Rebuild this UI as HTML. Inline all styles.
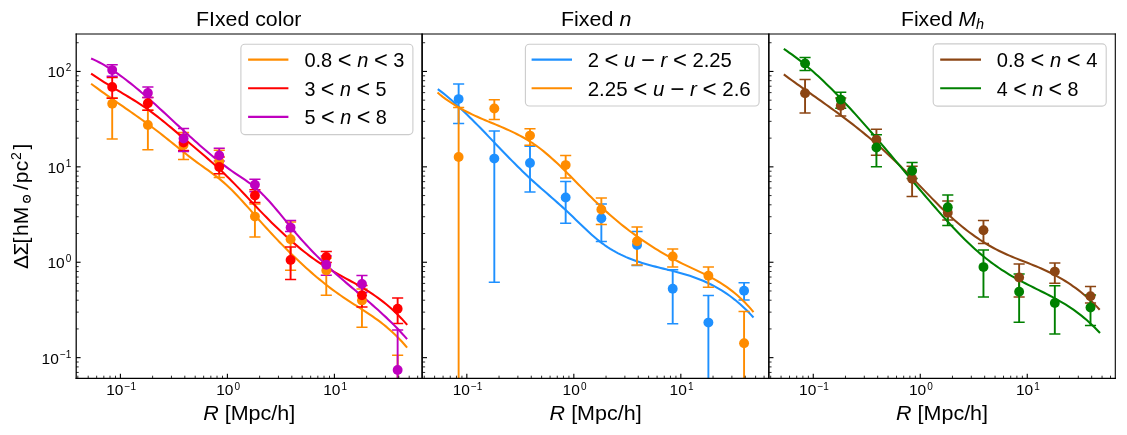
<!DOCTYPE html>
<html><head><meta charset="utf-8"><title>chart</title>
<style>
html,body{margin:0;padding:0;background:#fff;}
body{width:1127px;height:435px;overflow:hidden;}
svg{display:block;will-change:transform;}
text{font-family:"Liberation Sans", sans-serif;}
</style></head>
<body>
<svg width="1127" height="435" viewBox="0 0 1127 435">
<rect width="1127" height="435" fill="#fff"/>
<defs>
<clipPath id="c0"><rect x="76.00" y="33.9" width="346.43" height="344.50"/></clipPath>
<clipPath id="c1"><rect x="422.43" y="33.9" width="346.43" height="344.50"/></clipPath>
<clipPath id="c2"><rect x="768.86" y="33.9" width="346.43" height="344.50"/></clipPath>
</defs>
<g clip-path="url(#c0)">
<line x1="112.20" y1="98.00" x2="112.20" y2="139.00" stroke="#ff8c00" stroke-width="1.9"/><line x1="106.64" y1="98.00" x2="117.76" y2="98.00" stroke="#ff8c00" stroke-width="1.5"/><line x1="106.64" y1="139.00" x2="117.76" y2="139.00" stroke="#ff8c00" stroke-width="1.5"/><line x1="147.88" y1="110.20" x2="147.88" y2="149.80" stroke="#ff8c00" stroke-width="1.9"/><line x1="142.32" y1="110.20" x2="153.44" y2="110.20" stroke="#ff8c00" stroke-width="1.5"/><line x1="142.32" y1="149.80" x2="153.44" y2="149.80" stroke="#ff8c00" stroke-width="1.5"/><line x1="183.56" y1="132.50" x2="183.56" y2="159.60" stroke="#ff8c00" stroke-width="1.9"/><line x1="178.00" y1="132.50" x2="189.12" y2="132.50" stroke="#ff8c00" stroke-width="1.5"/><line x1="178.00" y1="159.60" x2="189.12" y2="159.60" stroke="#ff8c00" stroke-width="1.5"/><line x1="219.24" y1="150.20" x2="219.24" y2="177.50" stroke="#ff8c00" stroke-width="1.9"/><line x1="213.68" y1="150.20" x2="224.80" y2="150.20" stroke="#ff8c00" stroke-width="1.5"/><line x1="213.68" y1="177.50" x2="224.80" y2="177.50" stroke="#ff8c00" stroke-width="1.5"/><line x1="254.92" y1="204.00" x2="254.92" y2="237.00" stroke="#ff8c00" stroke-width="1.9"/><line x1="249.36" y1="204.00" x2="260.48" y2="204.00" stroke="#ff8c00" stroke-width="1.5"/><line x1="249.36" y1="237.00" x2="260.48" y2="237.00" stroke="#ff8c00" stroke-width="1.5"/><line x1="290.60" y1="222.10" x2="290.60" y2="270.30" stroke="#ff8c00" stroke-width="1.9"/><line x1="285.04" y1="222.10" x2="296.16" y2="222.10" stroke="#ff8c00" stroke-width="1.5"/><line x1="285.04" y1="270.30" x2="296.16" y2="270.30" stroke="#ff8c00" stroke-width="1.5"/><line x1="326.28" y1="258.00" x2="326.28" y2="295.20" stroke="#ff8c00" stroke-width="1.9"/><line x1="320.72" y1="258.00" x2="331.84" y2="258.00" stroke="#ff8c00" stroke-width="1.5"/><line x1="320.72" y1="295.20" x2="331.84" y2="295.20" stroke="#ff8c00" stroke-width="1.5"/><line x1="361.96" y1="289.00" x2="361.96" y2="327.30" stroke="#ff8c00" stroke-width="1.9"/><line x1="356.40" y1="289.00" x2="367.52" y2="289.00" stroke="#ff8c00" stroke-width="1.5"/><line x1="356.40" y1="327.30" x2="367.52" y2="327.30" stroke="#ff8c00" stroke-width="1.5"/><line x1="397.64" y1="355.30" x2="397.64" y2="383.40" stroke="#ff8c00" stroke-width="1.9"/><line x1="392.08" y1="355.30" x2="403.20" y2="355.30" stroke="#ff8c00" stroke-width="1.5"/>
<path d="M91.10,83.73 L93.76,85.72 L96.41,87.68 L99.07,89.62 L101.72,91.54 L104.38,93.44 L107.03,95.33 L109.69,97.21 L112.34,99.07 L115.00,100.93 L117.65,102.78 L120.31,104.62 L122.97,106.47 L125.62,108.31 L128.28,110.16 L130.93,112.01 L133.59,113.87 L136.24,115.73 L138.90,117.61 L141.55,119.50 L144.21,121.41 L146.86,123.33 L149.52,125.28 L152.18,127.25 L154.83,129.24 L157.49,131.26 L160.14,133.30 L162.80,135.38 L165.45,137.48 L168.11,139.60 L170.76,141.74 L173.42,143.88 L176.07,146.03 L178.73,148.17 L181.39,150.30 L184.04,152.42 L186.70,154.52 L189.35,156.59 L192.01,158.63 L194.66,160.63 L197.32,162.59 L199.97,164.52 L202.63,166.42 L205.28,168.31 L207.94,170.21 L210.60,172.13 L213.25,174.09 L215.91,176.10 L218.56,178.18 L221.22,180.34 L223.87,182.60 L226.53,184.97 L229.18,187.46 L231.84,190.05 L234.49,192.74 L237.15,195.51 L239.81,198.35 L242.46,201.25 L245.12,204.20 L247.77,207.18 L250.43,210.18 L253.08,213.19 L255.74,216.20 L258.39,219.20 L261.05,222.17 L263.71,225.11 L266.36,228.03 L269.02,230.91 L271.67,233.77 L274.33,236.60 L276.98,239.39 L279.64,242.16 L282.29,244.89 L284.95,247.59 L287.60,250.25 L290.26,252.89 L292.92,255.48 L295.57,258.04 L298.23,260.57 L300.88,263.06 L303.54,265.51 L306.19,267.92 L308.85,270.29 L311.50,272.63 L314.16,274.92 L316.81,277.18 L319.47,279.39 L322.13,281.56 L324.78,283.69 L327.44,285.77 L330.09,287.81 L332.75,289.81 L335.40,291.76 L338.06,293.66 L340.71,295.52 L343.37,297.33 L346.02,299.10 L348.68,300.84 L351.34,302.56 L353.99,304.26 L356.65,305.95 L359.30,307.64 L361.96,309.35 L364.61,311.07 L367.27,312.81 L369.92,314.59 L372.58,316.41 L375.23,318.28 L377.89,320.21 L380.55,322.20 L383.20,324.27 L385.86,326.43 L388.51,328.67 L391.17,331.01 L393.82,333.46 L396.48,336.02 L399.13,338.71 L401.79,341.53 L404.44,344.49 L407.10,347.60" fill="none" stroke="#ff8c00" stroke-width="2.08" stroke-linecap="butt" stroke-linejoin="round"/>
<line x1="112.20" y1="77.50" x2="112.20" y2="98.30" stroke="#ff0000" stroke-width="1.9"/><line x1="106.64" y1="77.50" x2="117.76" y2="77.50" stroke="#ff0000" stroke-width="1.5"/><line x1="106.64" y1="98.30" x2="117.76" y2="98.30" stroke="#ff0000" stroke-width="1.5"/><line x1="147.88" y1="97.60" x2="147.88" y2="110.20" stroke="#ff0000" stroke-width="1.9"/><line x1="142.32" y1="97.60" x2="153.44" y2="97.60" stroke="#ff0000" stroke-width="1.5"/><line x1="142.32" y1="110.20" x2="153.44" y2="110.20" stroke="#ff0000" stroke-width="1.5"/><line x1="183.56" y1="134.50" x2="183.56" y2="150.50" stroke="#ff0000" stroke-width="1.9"/><line x1="178.00" y1="134.50" x2="189.12" y2="134.50" stroke="#ff0000" stroke-width="1.5"/><line x1="178.00" y1="150.50" x2="189.12" y2="150.50" stroke="#ff0000" stroke-width="1.5"/><line x1="219.24" y1="157.00" x2="219.24" y2="173.80" stroke="#ff0000" stroke-width="1.9"/><line x1="213.68" y1="157.00" x2="224.80" y2="157.00" stroke="#ff0000" stroke-width="1.5"/><line x1="213.68" y1="173.80" x2="224.80" y2="173.80" stroke="#ff0000" stroke-width="1.5"/><line x1="254.92" y1="189.70" x2="254.92" y2="202.60" stroke="#ff0000" stroke-width="1.9"/><line x1="249.36" y1="189.70" x2="260.48" y2="189.70" stroke="#ff0000" stroke-width="1.5"/><line x1="249.36" y1="202.60" x2="260.48" y2="202.60" stroke="#ff0000" stroke-width="1.5"/><line x1="290.60" y1="247.00" x2="290.60" y2="279.60" stroke="#ff0000" stroke-width="1.9"/><line x1="285.04" y1="247.00" x2="296.16" y2="247.00" stroke="#ff0000" stroke-width="1.5"/><line x1="285.04" y1="279.60" x2="296.16" y2="279.60" stroke="#ff0000" stroke-width="1.5"/><line x1="326.28" y1="251.50" x2="326.28" y2="262.50" stroke="#ff0000" stroke-width="1.9"/><line x1="320.72" y1="251.50" x2="331.84" y2="251.50" stroke="#ff0000" stroke-width="1.5"/><line x1="320.72" y1="262.50" x2="331.84" y2="262.50" stroke="#ff0000" stroke-width="1.5"/><line x1="361.96" y1="285.50" x2="361.96" y2="307.00" stroke="#ff0000" stroke-width="1.9"/><line x1="356.40" y1="285.50" x2="367.52" y2="285.50" stroke="#ff0000" stroke-width="1.5"/><line x1="356.40" y1="307.00" x2="367.52" y2="307.00" stroke="#ff0000" stroke-width="1.5"/><line x1="397.64" y1="297.90" x2="397.64" y2="323.60" stroke="#ff0000" stroke-width="1.9"/><line x1="392.08" y1="297.90" x2="403.20" y2="297.90" stroke="#ff0000" stroke-width="1.5"/><line x1="392.08" y1="323.60" x2="403.20" y2="323.60" stroke="#ff0000" stroke-width="1.5"/>
<path d="M91.10,73.62 L93.76,75.45 L96.41,77.22 L99.07,78.96 L101.73,80.65 L104.38,82.32 L107.04,83.96 L109.69,85.58 L112.35,87.19 L115.01,88.78 L117.66,90.37 L120.32,91.95 L122.98,93.54 L125.63,95.13 L128.29,96.74 L130.94,98.37 L133.60,100.01 L136.26,101.69 L138.91,103.40 L141.57,105.14 L144.23,106.93 L146.88,108.76 L149.54,110.65 L152.19,112.59 L154.85,114.59 L157.51,116.63 L160.16,118.72 L162.82,120.84 L165.48,123.00 L168.13,125.18 L170.79,127.39 L173.45,129.62 L176.10,131.85 L178.76,134.10 L181.41,136.35 L184.07,138.59 L186.73,140.83 L189.38,143.06 L192.04,145.29 L194.70,147.53 L197.35,149.77 L200.01,152.02 L202.66,154.29 L205.32,156.57 L207.98,158.88 L210.63,161.21 L213.29,163.57 L215.95,165.96 L218.60,168.38 L221.26,170.85 L223.92,173.35 L226.57,175.91 L229.23,178.51 L231.88,181.17 L234.54,183.87 L237.20,186.62 L239.85,189.40 L242.51,192.20 L245.17,195.03 L247.82,197.86 L250.48,200.69 L253.13,203.52 L255.79,206.33 L258.45,209.12 L261.10,211.89 L263.76,214.62 L266.42,217.33 L269.07,220.00 L271.73,222.64 L274.38,225.24 L277.04,227.81 L279.70,230.34 L282.35,232.83 L285.01,235.28 L287.67,237.69 L290.32,240.06 L292.98,242.38 L295.64,244.66 L298.29,246.89 L300.95,249.08 L303.60,251.21 L306.26,253.29 L308.92,255.32 L311.57,257.30 L314.23,259.22 L316.89,261.08 L319.54,262.89 L322.20,264.64 L324.85,266.33 L327.51,267.97 L330.17,269.57 L332.82,271.12 L335.48,272.65 L338.14,274.15 L340.79,275.63 L343.45,277.10 L346.11,278.56 L348.76,280.02 L351.42,281.48 L354.07,282.96 L356.73,284.46 L359.39,285.98 L362.04,287.54 L364.70,289.13 L367.36,290.76 L370.01,292.45 L372.67,294.19 L375.32,296.00 L377.98,297.87 L380.64,299.83 L383.29,301.86 L385.95,303.98 L388.61,306.20 L391.26,308.51 L393.92,310.94 L396.57,313.48 L399.23,316.14 L401.89,318.92 L404.54,321.84 L407.20,324.90" fill="none" stroke="#ff0000" stroke-width="2.08" stroke-linecap="butt" stroke-linejoin="round"/>
<line x1="112.20" y1="64.80" x2="112.20" y2="76.20" stroke="#bf00bf" stroke-width="1.9"/><line x1="106.64" y1="64.80" x2="117.76" y2="64.80" stroke="#bf00bf" stroke-width="1.5"/><line x1="106.64" y1="76.20" x2="117.76" y2="76.20" stroke="#bf00bf" stroke-width="1.5"/><line x1="147.88" y1="87.00" x2="147.88" y2="97.60" stroke="#bf00bf" stroke-width="1.9"/><line x1="142.32" y1="87.00" x2="153.44" y2="87.00" stroke="#bf00bf" stroke-width="1.5"/><line x1="142.32" y1="97.60" x2="153.44" y2="97.60" stroke="#bf00bf" stroke-width="1.5"/><line x1="183.56" y1="128.50" x2="183.56" y2="151.40" stroke="#bf00bf" stroke-width="1.9"/><line x1="178.00" y1="128.50" x2="189.12" y2="128.50" stroke="#bf00bf" stroke-width="1.5"/><line x1="178.00" y1="151.40" x2="189.12" y2="151.40" stroke="#bf00bf" stroke-width="1.5"/><line x1="219.24" y1="148.20" x2="219.24" y2="161.00" stroke="#bf00bf" stroke-width="1.9"/><line x1="213.68" y1="148.20" x2="224.80" y2="148.20" stroke="#bf00bf" stroke-width="1.5"/><line x1="213.68" y1="161.00" x2="224.80" y2="161.00" stroke="#bf00bf" stroke-width="1.5"/><line x1="254.92" y1="179.30" x2="254.92" y2="191.80" stroke="#bf00bf" stroke-width="1.9"/><line x1="249.36" y1="179.30" x2="260.48" y2="179.30" stroke="#bf00bf" stroke-width="1.5"/><line x1="249.36" y1="191.80" x2="260.48" y2="191.80" stroke="#bf00bf" stroke-width="1.5"/><line x1="290.60" y1="220.60" x2="290.60" y2="231.50" stroke="#bf00bf" stroke-width="1.9"/><line x1="285.04" y1="220.60" x2="296.16" y2="220.60" stroke="#bf00bf" stroke-width="1.5"/><line x1="285.04" y1="231.50" x2="296.16" y2="231.50" stroke="#bf00bf" stroke-width="1.5"/><line x1="326.28" y1="256.00" x2="326.28" y2="275.30" stroke="#bf00bf" stroke-width="1.9"/><line x1="320.72" y1="256.00" x2="331.84" y2="256.00" stroke="#bf00bf" stroke-width="1.5"/><line x1="320.72" y1="275.30" x2="331.84" y2="275.30" stroke="#bf00bf" stroke-width="1.5"/><line x1="361.96" y1="275.40" x2="361.96" y2="292.50" stroke="#bf00bf" stroke-width="1.9"/><line x1="356.40" y1="275.40" x2="367.52" y2="275.40" stroke="#bf00bf" stroke-width="1.5"/><line x1="356.40" y1="292.50" x2="367.52" y2="292.50" stroke="#bf00bf" stroke-width="1.5"/><line x1="397.64" y1="330.10" x2="397.64" y2="383.40" stroke="#bf00bf" stroke-width="1.9"/><line x1="392.08" y1="330.10" x2="403.20" y2="330.10" stroke="#bf00bf" stroke-width="1.5"/>
<path d="M91.10,58.47 L93.76,59.66 L96.41,60.93 L99.07,62.27 L101.72,63.70 L104.38,65.20 L107.03,66.77 L109.69,68.41 L112.34,70.11 L115.00,71.88 L117.65,73.71 L120.31,75.59 L122.97,77.53 L125.62,79.52 L128.28,81.56 L130.93,83.65 L133.59,85.79 L136.24,87.96 L138.90,90.17 L141.55,92.42 L144.21,94.70 L146.86,97.01 L149.52,99.35 L152.18,101.72 L154.83,104.10 L157.49,106.51 L160.14,108.93 L162.80,111.37 L165.45,113.82 L168.11,116.27 L170.76,118.74 L173.42,121.20 L176.07,123.67 L178.73,126.13 L181.39,128.59 L184.04,131.04 L186.70,133.48 L189.35,135.91 L192.01,138.32 L194.66,140.72 L197.32,143.09 L199.97,145.43 L202.63,147.76 L205.28,150.05 L207.94,152.32 L210.60,154.55 L213.25,156.75 L215.91,158.91 L218.56,161.03 L221.22,163.12 L223.87,165.16 L226.53,167.16 L229.18,169.11 L231.84,171.02 L234.49,172.87 L237.15,174.68 L239.81,176.44 L242.46,178.19 L245.12,179.97 L247.77,181.80 L250.43,183.72 L253.08,185.76 L255.74,187.94 L258.39,190.28 L261.05,192.77 L263.71,195.40 L266.36,198.16 L269.02,201.04 L271.67,204.03 L274.33,207.10 L276.98,210.25 L279.64,213.46 L282.29,216.70 L284.95,219.96 L287.60,223.22 L290.26,226.47 L292.92,229.68 L295.57,232.83 L298.23,235.92 L300.88,238.95 L303.54,241.91 L306.19,244.82 L308.85,247.66 L311.50,250.45 L314.16,253.19 L316.81,255.87 L319.47,258.51 L322.13,261.09 L324.78,263.63 L327.44,266.13 L330.09,268.58 L332.75,270.99 L335.40,273.37 L338.06,275.71 L340.71,278.03 L343.37,280.32 L346.02,282.59 L348.68,284.84 L351.34,287.08 L353.99,289.32 L356.65,291.55 L359.30,293.78 L361.96,296.02 L364.61,298.27 L367.27,300.53 L369.92,302.82 L372.58,305.12 L375.23,307.45 L377.89,309.81 L380.55,312.21 L383.20,314.65 L385.86,317.13 L388.51,319.66 L391.17,322.24 L393.82,324.88 L396.48,327.58 L399.13,330.34 L401.79,333.17 L404.44,336.08 L407.10,339.07" fill="none" stroke="#bf00bf" stroke-width="2.08" stroke-linecap="butt" stroke-linejoin="round"/>
<circle cx="112.20" cy="103.70" r="4.95" fill="#ff8c00"/><circle cx="147.88" cy="125.00" r="4.95" fill="#ff8c00"/><circle cx="183.56" cy="145.00" r="4.95" fill="#ff8c00"/><circle cx="219.24" cy="161.40" r="4.95" fill="#ff8c00"/><circle cx="254.92" cy="216.60" r="4.95" fill="#ff8c00"/><circle cx="290.60" cy="239.30" r="4.95" fill="#ff8c00"/><circle cx="326.28" cy="270.60" r="4.95" fill="#ff8c00"/><circle cx="361.96" cy="300.40" r="4.95" fill="#ff8c00"/><circle cx="397.64" cy="420.00" r="4.95" fill="#ff8c00"/><circle cx="112.20" cy="86.90" r="4.95" fill="#ff0000"/><circle cx="147.88" cy="103.30" r="4.95" fill="#ff0000"/><circle cx="183.56" cy="142.50" r="4.95" fill="#ff0000"/><circle cx="219.24" cy="167.00" r="4.95" fill="#ff0000"/><circle cx="254.92" cy="195.50" r="4.95" fill="#ff0000"/><circle cx="290.60" cy="259.90" r="4.95" fill="#ff0000"/><circle cx="326.28" cy="257.00" r="4.95" fill="#ff0000"/><circle cx="361.96" cy="295.20" r="4.95" fill="#ff0000"/><circle cx="397.64" cy="308.70" r="4.95" fill="#ff0000"/><circle cx="112.20" cy="70.10" r="4.95" fill="#bf00bf"/><circle cx="147.88" cy="92.90" r="4.95" fill="#bf00bf"/><circle cx="183.56" cy="138.60" r="4.95" fill="#bf00bf"/><circle cx="219.24" cy="155.50" r="4.95" fill="#bf00bf"/><circle cx="254.92" cy="184.80" r="4.95" fill="#bf00bf"/><circle cx="290.60" cy="227.60" r="4.95" fill="#bf00bf"/><circle cx="326.28" cy="264.80" r="4.95" fill="#bf00bf"/><circle cx="361.96" cy="284.00" r="4.95" fill="#bf00bf"/><circle cx="397.64" cy="370.00" r="4.95" fill="#bf00bf"/>
</g>
<g clip-path="url(#c1)">
<line x1="458.63" y1="84.00" x2="458.63" y2="123.60" stroke="#1e90ff" stroke-width="1.9"/><line x1="453.07" y1="84.00" x2="464.19" y2="84.00" stroke="#1e90ff" stroke-width="1.5"/><line x1="453.07" y1="123.60" x2="464.19" y2="123.60" stroke="#1e90ff" stroke-width="1.5"/><line x1="494.31" y1="130.90" x2="494.31" y2="282.20" stroke="#1e90ff" stroke-width="1.9"/><line x1="488.75" y1="130.90" x2="499.87" y2="130.90" stroke="#1e90ff" stroke-width="1.5"/><line x1="488.75" y1="282.20" x2="499.87" y2="282.20" stroke="#1e90ff" stroke-width="1.5"/><line x1="529.99" y1="146.20" x2="529.99" y2="191.90" stroke="#1e90ff" stroke-width="1.9"/><line x1="524.43" y1="146.20" x2="535.55" y2="146.20" stroke="#1e90ff" stroke-width="1.5"/><line x1="524.43" y1="191.90" x2="535.55" y2="191.90" stroke="#1e90ff" stroke-width="1.5"/><line x1="565.67" y1="181.50" x2="565.67" y2="223.20" stroke="#1e90ff" stroke-width="1.9"/><line x1="560.11" y1="181.50" x2="571.23" y2="181.50" stroke="#1e90ff" stroke-width="1.5"/><line x1="560.11" y1="223.20" x2="571.23" y2="223.20" stroke="#1e90ff" stroke-width="1.5"/><line x1="601.35" y1="204.00" x2="601.35" y2="241.40" stroke="#1e90ff" stroke-width="1.9"/><line x1="595.79" y1="204.00" x2="606.91" y2="204.00" stroke="#1e90ff" stroke-width="1.5"/><line x1="595.79" y1="241.40" x2="606.91" y2="241.40" stroke="#1e90ff" stroke-width="1.5"/><line x1="637.03" y1="231.40" x2="637.03" y2="265.40" stroke="#1e90ff" stroke-width="1.9"/><line x1="631.47" y1="231.40" x2="642.59" y2="231.40" stroke="#1e90ff" stroke-width="1.5"/><line x1="631.47" y1="265.40" x2="642.59" y2="265.40" stroke="#1e90ff" stroke-width="1.5"/><line x1="672.71" y1="269.70" x2="672.71" y2="323.80" stroke="#1e90ff" stroke-width="1.9"/><line x1="667.15" y1="269.70" x2="678.27" y2="269.70" stroke="#1e90ff" stroke-width="1.5"/><line x1="667.15" y1="323.80" x2="678.27" y2="323.80" stroke="#1e90ff" stroke-width="1.5"/><line x1="708.39" y1="295.60" x2="708.39" y2="383.40" stroke="#1e90ff" stroke-width="1.9"/><line x1="702.83" y1="295.60" x2="713.95" y2="295.60" stroke="#1e90ff" stroke-width="1.5"/><line x1="744.07" y1="282.80" x2="744.07" y2="299.90" stroke="#1e90ff" stroke-width="1.9"/><line x1="738.51" y1="282.80" x2="749.63" y2="282.80" stroke="#1e90ff" stroke-width="1.5"/><line x1="738.51" y1="299.90" x2="749.63" y2="299.90" stroke="#1e90ff" stroke-width="1.5"/>
<path d="M437.80,89.06 L440.45,91.07 L443.11,93.16 L445.76,95.31 L448.41,97.52 L451.06,99.80 L453.72,102.13 L456.37,104.52 L459.02,106.96 L461.68,109.44 L464.33,111.97 L466.98,114.54 L469.64,117.14 L472.29,119.78 L474.94,122.45 L477.59,125.14 L480.25,127.85 L482.90,130.59 L485.55,133.34 L488.21,136.10 L490.86,138.86 L493.51,141.64 L496.16,144.41 L498.82,147.18 L501.47,149.95 L504.12,152.70 L506.78,155.44 L509.43,158.17 L512.08,160.87 L514.74,163.56 L517.39,166.21 L520.04,168.83 L522.69,171.42 L525.35,173.98 L528.00,176.49 L530.65,178.95 L533.31,181.38 L535.96,183.76 L538.61,186.12 L541.26,188.45 L543.92,190.76 L546.57,193.07 L549.22,195.37 L551.88,197.68 L554.53,200.01 L557.18,202.35 L559.84,204.72 L562.49,207.12 L565.14,209.56 L567.79,212.05 L570.45,214.57 L573.10,217.12 L575.75,219.69 L578.41,222.25 L581.06,224.81 L583.71,227.34 L586.36,229.84 L589.02,232.29 L591.67,234.67 L594.32,236.99 L596.98,239.22 L599.63,241.35 L602.28,243.37 L604.94,245.28 L607.59,247.08 L610.24,248.78 L612.89,250.38 L615.55,251.89 L618.20,253.31 L620.85,254.65 L623.51,255.91 L626.16,257.10 L628.81,258.21 L631.46,259.26 L634.12,260.26 L636.77,261.19 L639.42,262.08 L642.08,262.92 L644.73,263.73 L647.38,264.49 L650.04,265.23 L652.69,265.94 L655.34,266.63 L657.99,267.30 L660.65,267.97 L663.30,268.62 L665.95,269.27 L668.61,269.93 L671.26,270.59 L673.91,271.27 L676.56,271.96 L679.22,272.68 L681.87,273.42 L684.52,274.20 L687.18,275.00 L689.83,275.85 L692.48,276.74 L695.14,277.68 L697.79,278.67 L700.44,279.71 L703.09,280.81 L705.75,281.97 L708.40,283.20 L711.05,284.49 L713.71,285.85 L716.36,287.30 L719.01,288.82 L721.66,290.42 L724.32,292.11 L726.97,293.89 L729.62,295.77 L732.28,297.74 L734.93,299.81 L737.58,301.99 L740.24,304.28 L742.89,306.68 L745.54,309.20 L748.19,311.84 L750.85,314.60 L753.50,317.49" fill="none" stroke="#1e90ff" stroke-width="2.08" stroke-linecap="butt" stroke-linejoin="round"/>
<line x1="458.63" y1="107.40" x2="458.63" y2="383.40" stroke="#ff8c00" stroke-width="1.9"/><line x1="453.07" y1="107.40" x2="464.19" y2="107.40" stroke="#ff8c00" stroke-width="1.5"/><line x1="494.31" y1="99.70" x2="494.31" y2="119.60" stroke="#ff8c00" stroke-width="1.9"/><line x1="488.75" y1="99.70" x2="499.87" y2="99.70" stroke="#ff8c00" stroke-width="1.5"/><line x1="488.75" y1="119.60" x2="499.87" y2="119.60" stroke="#ff8c00" stroke-width="1.5"/><line x1="529.99" y1="128.80" x2="529.99" y2="145.30" stroke="#ff8c00" stroke-width="1.9"/><line x1="524.43" y1="128.80" x2="535.55" y2="128.80" stroke="#ff8c00" stroke-width="1.5"/><line x1="524.43" y1="145.30" x2="535.55" y2="145.30" stroke="#ff8c00" stroke-width="1.5"/><line x1="565.67" y1="155.60" x2="565.67" y2="177.90" stroke="#ff8c00" stroke-width="1.9"/><line x1="560.11" y1="155.60" x2="571.23" y2="155.60" stroke="#ff8c00" stroke-width="1.5"/><line x1="560.11" y1="177.90" x2="571.23" y2="177.90" stroke="#ff8c00" stroke-width="1.5"/><line x1="601.35" y1="198.10" x2="601.35" y2="224.50" stroke="#ff8c00" stroke-width="1.9"/><line x1="595.79" y1="198.10" x2="606.91" y2="198.10" stroke="#ff8c00" stroke-width="1.5"/><line x1="595.79" y1="224.50" x2="606.91" y2="224.50" stroke="#ff8c00" stroke-width="1.5"/><line x1="637.03" y1="227.10" x2="637.03" y2="265.00" stroke="#ff8c00" stroke-width="1.9"/><line x1="631.47" y1="227.10" x2="642.59" y2="227.10" stroke="#ff8c00" stroke-width="1.5"/><line x1="631.47" y1="265.00" x2="642.59" y2="265.00" stroke="#ff8c00" stroke-width="1.5"/><line x1="672.71" y1="249.00" x2="672.71" y2="266.90" stroke="#ff8c00" stroke-width="1.9"/><line x1="667.15" y1="249.00" x2="678.27" y2="249.00" stroke="#ff8c00" stroke-width="1.5"/><line x1="667.15" y1="266.90" x2="678.27" y2="266.90" stroke="#ff8c00" stroke-width="1.5"/><line x1="708.39" y1="267.00" x2="708.39" y2="287.20" stroke="#ff8c00" stroke-width="1.9"/><line x1="702.83" y1="267.00" x2="713.95" y2="267.00" stroke="#ff8c00" stroke-width="1.5"/><line x1="702.83" y1="287.20" x2="713.95" y2="287.20" stroke="#ff8c00" stroke-width="1.5"/><line x1="744.07" y1="311.50" x2="744.07" y2="383.40" stroke="#ff8c00" stroke-width="1.9"/><line x1="738.51" y1="311.50" x2="749.63" y2="311.50" stroke="#ff8c00" stroke-width="1.5"/>
<path d="M437.50,92.54 L440.16,94.73 L442.81,96.81 L445.47,98.80 L448.12,100.69 L450.78,102.49 L453.43,104.20 L456.09,105.84 L458.74,107.41 L461.40,108.91 L464.05,110.34 L466.71,111.72 L469.37,113.05 L472.02,114.33 L474.68,115.57 L477.33,116.77 L479.99,117.95 L482.64,119.09 L485.30,120.22 L487.95,121.34 L490.61,122.44 L493.26,123.55 L495.92,124.65 L498.58,125.76 L501.23,126.89 L503.89,128.03 L506.54,129.19 L509.20,130.39 L511.85,131.62 L514.51,132.89 L517.16,134.22 L519.82,135.59 L522.47,137.03 L525.13,138.53 L527.79,140.10 L530.44,141.76 L533.10,143.49 L535.75,145.32 L538.41,147.24 L541.06,149.27 L543.72,151.38 L546.37,153.58 L549.03,155.85 L551.68,158.20 L554.34,160.61 L557.00,163.08 L559.65,165.61 L562.31,168.18 L564.96,170.78 L567.62,173.42 L570.27,176.09 L572.93,178.78 L575.58,181.48 L578.24,184.19 L580.89,186.89 L583.55,189.59 L586.21,192.28 L588.86,194.95 L591.52,197.60 L594.17,200.21 L596.83,202.78 L599.48,205.31 L602.14,207.79 L604.79,210.22 L607.45,212.62 L610.11,214.97 L612.76,217.27 L615.42,219.53 L618.07,221.75 L620.73,223.93 L623.38,226.07 L626.04,228.16 L628.69,230.21 L631.35,232.22 L634.00,234.20 L636.66,236.13 L639.32,238.02 L641.97,239.88 L644.63,241.69 L647.28,243.47 L649.94,245.21 L652.59,246.91 L655.25,248.58 L657.90,250.21 L660.56,251.81 L663.21,253.37 L665.87,254.89 L668.53,256.38 L671.18,257.84 L673.84,259.26 L676.49,260.65 L679.15,262.00 L681.80,263.33 L684.46,264.62 L687.11,265.89 L689.77,267.14 L692.42,268.38 L695.08,269.63 L697.74,270.87 L700.39,272.13 L703.05,273.41 L705.70,274.72 L708.36,276.07 L711.01,277.46 L713.67,278.91 L716.32,280.41 L718.98,281.98 L721.63,283.63 L724.29,285.36 L726.95,287.18 L729.60,289.10 L732.26,291.12 L734.91,293.26 L737.57,295.52 L740.22,297.91 L742.88,300.43 L745.53,303.10 L748.19,305.92 L750.84,308.90 L753.50,312.05" fill="none" stroke="#ff8c00" stroke-width="2.08" stroke-linecap="butt" stroke-linejoin="round"/>
<circle cx="458.63" cy="99.10" r="4.95" fill="#1e90ff"/><circle cx="494.31" cy="158.60" r="4.95" fill="#1e90ff"/><circle cx="529.99" cy="163.00" r="4.95" fill="#1e90ff"/><circle cx="565.67" cy="197.50" r="4.95" fill="#1e90ff"/><circle cx="601.35" cy="218.30" r="4.95" fill="#1e90ff"/><circle cx="637.03" cy="245.00" r="4.95" fill="#1e90ff"/><circle cx="672.71" cy="288.70" r="4.95" fill="#1e90ff"/><circle cx="708.39" cy="322.60" r="4.95" fill="#1e90ff"/><circle cx="744.07" cy="290.80" r="4.95" fill="#1e90ff"/><circle cx="458.63" cy="157.00" r="4.95" fill="#ff8c00"/><circle cx="494.31" cy="108.50" r="4.95" fill="#ff8c00"/><circle cx="529.99" cy="135.60" r="4.95" fill="#ff8c00"/><circle cx="565.67" cy="165.10" r="4.95" fill="#ff8c00"/><circle cx="601.35" cy="209.50" r="4.95" fill="#ff8c00"/><circle cx="637.03" cy="241.30" r="4.95" fill="#ff8c00"/><circle cx="672.71" cy="256.50" r="4.95" fill="#ff8c00"/><circle cx="708.39" cy="275.80" r="4.95" fill="#ff8c00"/><circle cx="744.07" cy="343.20" r="4.95" fill="#ff8c00"/>
</g>
<g clip-path="url(#c2)">
<line x1="805.06" y1="79.60" x2="805.06" y2="113.00" stroke="#8b4513" stroke-width="1.9"/><line x1="799.50" y1="79.60" x2="810.62" y2="79.60" stroke="#8b4513" stroke-width="1.5"/><line x1="799.50" y1="113.00" x2="810.62" y2="113.00" stroke="#8b4513" stroke-width="1.5"/><line x1="840.74" y1="98.00" x2="840.74" y2="116.00" stroke="#8b4513" stroke-width="1.9"/><line x1="835.18" y1="98.00" x2="846.30" y2="98.00" stroke="#8b4513" stroke-width="1.5"/><line x1="835.18" y1="116.00" x2="846.30" y2="116.00" stroke="#8b4513" stroke-width="1.5"/><line x1="876.42" y1="129.30" x2="876.42" y2="155.30" stroke="#8b4513" stroke-width="1.9"/><line x1="870.86" y1="129.30" x2="881.98" y2="129.30" stroke="#8b4513" stroke-width="1.5"/><line x1="870.86" y1="155.30" x2="881.98" y2="155.30" stroke="#8b4513" stroke-width="1.5"/><line x1="912.10" y1="166.30" x2="912.10" y2="196.60" stroke="#8b4513" stroke-width="1.9"/><line x1="906.54" y1="166.30" x2="917.66" y2="166.30" stroke="#8b4513" stroke-width="1.5"/><line x1="906.54" y1="196.60" x2="917.66" y2="196.60" stroke="#8b4513" stroke-width="1.5"/><line x1="947.78" y1="201.00" x2="947.78" y2="220.00" stroke="#8b4513" stroke-width="1.9"/><line x1="942.22" y1="201.00" x2="953.34" y2="201.00" stroke="#8b4513" stroke-width="1.5"/><line x1="942.22" y1="220.00" x2="953.34" y2="220.00" stroke="#8b4513" stroke-width="1.5"/><line x1="983.46" y1="220.60" x2="983.46" y2="243.40" stroke="#8b4513" stroke-width="1.9"/><line x1="977.90" y1="220.60" x2="989.02" y2="220.60" stroke="#8b4513" stroke-width="1.5"/><line x1="977.90" y1="243.40" x2="989.02" y2="243.40" stroke="#8b4513" stroke-width="1.5"/><line x1="1019.14" y1="263.90" x2="1019.14" y2="297.10" stroke="#8b4513" stroke-width="1.9"/><line x1="1013.58" y1="263.90" x2="1024.70" y2="263.90" stroke="#8b4513" stroke-width="1.5"/><line x1="1013.58" y1="297.10" x2="1024.70" y2="297.10" stroke="#8b4513" stroke-width="1.5"/><line x1="1054.82" y1="263.00" x2="1054.82" y2="283.30" stroke="#8b4513" stroke-width="1.9"/><line x1="1049.26" y1="263.00" x2="1060.38" y2="263.00" stroke="#8b4513" stroke-width="1.5"/><line x1="1049.26" y1="283.30" x2="1060.38" y2="283.30" stroke="#8b4513" stroke-width="1.5"/><line x1="1090.50" y1="286.40" x2="1090.50" y2="303.00" stroke="#8b4513" stroke-width="1.9"/><line x1="1084.94" y1="286.40" x2="1096.06" y2="286.40" stroke="#8b4513" stroke-width="1.5"/><line x1="1084.94" y1="303.00" x2="1096.06" y2="303.00" stroke="#8b4513" stroke-width="1.5"/>
<path d="M783.80,74.41 L786.45,76.36 L789.11,78.29 L791.76,80.22 L794.42,82.13 L797.07,84.03 L799.73,85.93 L802.38,87.81 L805.04,89.70 L807.69,91.57 L810.35,93.45 L813.00,95.33 L815.66,97.20 L818.31,99.08 L820.96,100.97 L823.62,102.86 L826.27,104.75 L828.93,106.66 L831.58,108.58 L834.24,110.50 L836.89,112.44 L839.55,114.40 L842.20,116.37 L844.86,118.36 L847.51,120.36 L850.17,122.39 L852.82,124.44 L855.47,126.52 L858.13,128.62 L860.78,130.74 L863.44,132.90 L866.09,135.08 L868.75,137.29 L871.40,139.54 L874.06,141.82 L876.71,144.13 L879.37,146.47 L882.02,148.84 L884.68,151.24 L887.33,153.67 L889.98,156.13 L892.64,158.62 L895.29,161.14 L897.95,163.69 L900.60,166.28 L903.26,168.89 L905.91,171.53 L908.57,174.20 L911.22,176.91 L913.88,179.63 L916.53,182.37 L919.19,185.12 L921.84,187.88 L924.49,190.64 L927.15,193.39 L929.80,196.14 L932.46,198.86 L935.11,201.57 L937.77,204.24 L940.42,206.89 L943.08,209.49 L945.73,212.05 L948.39,214.56 L951.04,217.01 L953.70,219.40 L956.35,221.74 L959.01,224.01 L961.66,226.22 L964.31,228.37 L966.97,230.47 L969.62,232.50 L972.28,234.46 L974.93,236.37 L977.59,238.22 L980.24,240.00 L982.90,241.73 L985.55,243.39 L988.21,244.99 L990.86,246.52 L993.52,248.00 L996.17,249.41 L998.82,250.76 L1001.48,252.05 L1004.13,253.29 L1006.79,254.48 L1009.44,255.63 L1012.10,256.75 L1014.75,257.84 L1017.41,258.91 L1020.06,259.96 L1022.72,261.01 L1025.37,262.05 L1028.03,263.09 L1030.68,264.14 L1033.33,265.21 L1035.99,266.30 L1038.64,267.41 L1041.30,268.56 L1043.95,269.74 L1046.61,270.97 L1049.26,272.24 L1051.92,273.56 L1054.57,274.93 L1057.23,276.36 L1059.88,277.84 L1062.54,279.39 L1065.19,281.00 L1067.84,282.69 L1070.50,284.45 L1073.15,286.28 L1075.81,288.20 L1078.46,290.20 L1081.12,292.29 L1083.77,294.47 L1086.43,296.74 L1089.08,299.12 L1091.74,301.60 L1094.39,304.18 L1097.05,306.88 L1099.70,309.68" fill="none" stroke="#8b4513" stroke-width="2.08" stroke-linecap="butt" stroke-linejoin="round"/>
<line x1="805.06" y1="57.50" x2="805.06" y2="70.40" stroke="#008000" stroke-width="1.9"/><line x1="799.50" y1="57.50" x2="810.62" y2="57.50" stroke="#008000" stroke-width="1.5"/><line x1="799.50" y1="70.40" x2="810.62" y2="70.40" stroke="#008000" stroke-width="1.5"/><line x1="840.74" y1="92.20" x2="840.74" y2="108.30" stroke="#008000" stroke-width="1.9"/><line x1="835.18" y1="92.20" x2="846.30" y2="92.20" stroke="#008000" stroke-width="1.5"/><line x1="835.18" y1="108.30" x2="846.30" y2="108.30" stroke="#008000" stroke-width="1.5"/><line x1="876.42" y1="134.70" x2="876.42" y2="166.80" stroke="#008000" stroke-width="1.9"/><line x1="870.86" y1="134.70" x2="881.98" y2="134.70" stroke="#008000" stroke-width="1.5"/><line x1="870.86" y1="166.80" x2="881.98" y2="166.80" stroke="#008000" stroke-width="1.5"/><line x1="912.10" y1="162.40" x2="912.10" y2="178.50" stroke="#008000" stroke-width="1.9"/><line x1="906.54" y1="162.40" x2="917.66" y2="162.40" stroke="#008000" stroke-width="1.5"/><line x1="906.54" y1="178.50" x2="917.66" y2="178.50" stroke="#008000" stroke-width="1.5"/><line x1="947.78" y1="195.00" x2="947.78" y2="225.50" stroke="#008000" stroke-width="1.9"/><line x1="942.22" y1="195.00" x2="953.34" y2="195.00" stroke="#008000" stroke-width="1.5"/><line x1="942.22" y1="225.50" x2="953.34" y2="225.50" stroke="#008000" stroke-width="1.5"/><line x1="983.46" y1="249.90" x2="983.46" y2="297.00" stroke="#008000" stroke-width="1.9"/><line x1="977.90" y1="249.90" x2="989.02" y2="249.90" stroke="#008000" stroke-width="1.5"/><line x1="977.90" y1="297.00" x2="989.02" y2="297.00" stroke="#008000" stroke-width="1.5"/><line x1="1019.14" y1="274.10" x2="1019.14" y2="322.30" stroke="#008000" stroke-width="1.9"/><line x1="1013.58" y1="274.10" x2="1024.70" y2="274.10" stroke="#008000" stroke-width="1.5"/><line x1="1013.58" y1="322.30" x2="1024.70" y2="322.30" stroke="#008000" stroke-width="1.5"/><line x1="1054.82" y1="285.70" x2="1054.82" y2="334.10" stroke="#008000" stroke-width="1.9"/><line x1="1049.26" y1="285.70" x2="1060.38" y2="285.70" stroke="#008000" stroke-width="1.5"/><line x1="1049.26" y1="334.10" x2="1060.38" y2="334.10" stroke="#008000" stroke-width="1.5"/><line x1="1090.50" y1="295.00" x2="1090.50" y2="325.50" stroke="#008000" stroke-width="1.9"/><line x1="1084.94" y1="295.00" x2="1096.06" y2="295.00" stroke="#008000" stroke-width="1.5"/><line x1="1084.94" y1="325.50" x2="1096.06" y2="325.50" stroke="#008000" stroke-width="1.5"/>
<path d="M783.80,48.97 L786.46,50.73 L789.11,52.55 L791.77,54.43 L794.43,56.37 L797.09,58.38 L799.74,60.44 L802.40,62.55 L805.06,64.72 L807.71,66.95 L810.37,69.22 L813.03,71.55 L815.69,73.92 L818.34,76.35 L821.00,78.81 L823.66,81.33 L826.31,83.88 L828.97,86.48 L831.63,89.11 L834.29,91.79 L836.94,94.50 L839.60,97.25 L842.26,100.03 L844.91,102.85 L847.57,105.69 L850.23,108.57 L852.89,111.47 L855.54,114.40 L858.20,117.36 L860.86,120.34 L863.51,123.34 L866.17,126.36 L868.83,129.41 L871.49,132.47 L874.14,135.54 L876.80,138.64 L879.46,141.74 L882.11,144.86 L884.77,147.99 L887.43,151.13 L890.09,154.28 L892.74,157.43 L895.40,160.59 L898.06,163.75 L900.71,166.91 L903.37,170.08 L906.03,173.24 L908.69,176.40 L911.34,179.56 L914.00,182.71 L916.66,185.85 L919.31,188.99 L921.97,192.11 L924.63,195.23 L927.29,198.33 L929.94,201.42 L932.60,204.49 L935.26,207.55 L937.91,210.59 L940.57,213.60 L943.23,216.59 L945.89,219.55 L948.54,222.48 L951.20,225.37 L953.86,228.23 L956.51,231.04 L959.17,233.80 L961.83,236.52 L964.49,239.18 L967.14,241.78 L969.80,244.33 L972.46,246.81 L975.11,249.23 L977.77,251.57 L980.43,253.85 L983.09,256.06 L985.74,258.20 L988.40,260.28 L991.06,262.30 L993.71,264.26 L996.37,266.15 L999.03,267.99 L1001.69,269.76 L1004.34,271.49 L1007.00,273.15 L1009.66,274.77 L1012.31,276.33 L1014.97,277.84 L1017.63,279.31 L1020.29,280.74 L1022.94,282.13 L1025.60,283.50 L1028.26,284.85 L1030.91,286.18 L1033.57,287.50 L1036.23,288.81 L1038.89,290.13 L1041.54,291.45 L1044.20,292.78 L1046.86,294.12 L1049.51,295.49 L1052.17,296.89 L1054.83,298.32 L1057.49,299.79 L1060.14,301.30 L1062.80,302.87 L1065.46,304.48 L1068.11,306.16 L1070.77,307.91 L1073.43,309.72 L1076.09,311.62 L1078.74,313.59 L1081.40,315.66 L1084.06,317.82 L1086.71,320.07 L1089.37,322.43 L1092.03,324.91 L1094.69,327.49 L1097.34,330.20 L1100.00,333.04" fill="none" stroke="#008000" stroke-width="2.08" stroke-linecap="butt" stroke-linejoin="round"/>
<circle cx="805.06" cy="93.20" r="4.95" fill="#8b4513"/><circle cx="840.74" cy="105.80" r="4.95" fill="#8b4513"/><circle cx="876.42" cy="139.80" r="4.95" fill="#8b4513"/><circle cx="912.10" cy="178.80" r="4.95" fill="#8b4513"/><circle cx="947.78" cy="212.80" r="4.95" fill="#8b4513"/><circle cx="983.46" cy="230.30" r="4.95" fill="#8b4513"/><circle cx="1019.14" cy="277.50" r="4.95" fill="#8b4513"/><circle cx="1054.82" cy="271.60" r="4.95" fill="#8b4513"/><circle cx="1090.50" cy="296.30" r="4.95" fill="#8b4513"/><circle cx="805.06" cy="63.50" r="4.95" fill="#008000"/><circle cx="840.74" cy="99.60" r="4.95" fill="#008000"/><circle cx="876.42" cy="147.50" r="4.95" fill="#008000"/><circle cx="912.10" cy="170.75" r="4.95" fill="#008000"/><circle cx="947.78" cy="207.30" r="4.95" fill="#008000"/><circle cx="983.46" cy="267.10" r="4.95" fill="#008000"/><circle cx="1019.14" cy="291.70" r="4.95" fill="#008000"/><circle cx="1054.82" cy="303.00" r="4.95" fill="#008000"/><circle cx="1090.50" cy="307.60" r="4.95" fill="#008000"/>
</g>
<line x1="76.00" y1="372.43" x2="78.70" y2="372.43" stroke="#000" stroke-width="0.83"/><line x1="76.00" y1="366.90" x2="78.70" y2="366.90" stroke="#000" stroke-width="0.83"/><line x1="76.00" y1="362.02" x2="78.70" y2="362.02" stroke="#000" stroke-width="0.83"/><line x1="76.00" y1="357.65" x2="80.60" y2="357.65" stroke="#000" stroke-width="1.11"/><line x1="76.00" y1="328.93" x2="78.70" y2="328.93" stroke="#000" stroke-width="0.83"/><line x1="76.00" y1="312.13" x2="78.70" y2="312.13" stroke="#000" stroke-width="0.83"/><line x1="76.00" y1="300.21" x2="78.70" y2="300.21" stroke="#000" stroke-width="0.83"/><line x1="76.00" y1="290.97" x2="78.70" y2="290.97" stroke="#000" stroke-width="0.83"/><line x1="76.00" y1="283.41" x2="78.70" y2="283.41" stroke="#000" stroke-width="0.83"/><line x1="76.00" y1="277.03" x2="78.70" y2="277.03" stroke="#000" stroke-width="0.83"/><line x1="76.00" y1="271.50" x2="78.70" y2="271.50" stroke="#000" stroke-width="0.83"/><line x1="76.00" y1="266.62" x2="78.70" y2="266.62" stroke="#000" stroke-width="0.83"/><line x1="76.00" y1="262.25" x2="80.60" y2="262.25" stroke="#000" stroke-width="1.11"/><line x1="76.00" y1="233.53" x2="78.70" y2="233.53" stroke="#000" stroke-width="0.83"/><line x1="76.00" y1="216.73" x2="78.70" y2="216.73" stroke="#000" stroke-width="0.83"/><line x1="76.00" y1="204.81" x2="78.70" y2="204.81" stroke="#000" stroke-width="0.83"/><line x1="76.00" y1="195.57" x2="78.70" y2="195.57" stroke="#000" stroke-width="0.83"/><line x1="76.00" y1="188.01" x2="78.70" y2="188.01" stroke="#000" stroke-width="0.83"/><line x1="76.00" y1="181.63" x2="78.70" y2="181.63" stroke="#000" stroke-width="0.83"/><line x1="76.00" y1="176.10" x2="78.70" y2="176.10" stroke="#000" stroke-width="0.83"/><line x1="76.00" y1="171.22" x2="78.70" y2="171.22" stroke="#000" stroke-width="0.83"/><line x1="76.00" y1="166.85" x2="80.60" y2="166.85" stroke="#000" stroke-width="1.11"/><line x1="76.00" y1="138.13" x2="78.70" y2="138.13" stroke="#000" stroke-width="0.83"/><line x1="76.00" y1="121.33" x2="78.70" y2="121.33" stroke="#000" stroke-width="0.83"/><line x1="76.00" y1="109.41" x2="78.70" y2="109.41" stroke="#000" stroke-width="0.83"/><line x1="76.00" y1="100.17" x2="78.70" y2="100.17" stroke="#000" stroke-width="0.83"/><line x1="76.00" y1="92.61" x2="78.70" y2="92.61" stroke="#000" stroke-width="0.83"/><line x1="76.00" y1="86.23" x2="78.70" y2="86.23" stroke="#000" stroke-width="0.83"/><line x1="76.00" y1="80.70" x2="78.70" y2="80.70" stroke="#000" stroke-width="0.83"/><line x1="76.00" y1="75.82" x2="78.70" y2="75.82" stroke="#000" stroke-width="0.83"/><line x1="76.00" y1="71.45" x2="80.60" y2="71.45" stroke="#000" stroke-width="1.11"/><line x1="76.00" y1="42.73" x2="78.70" y2="42.73" stroke="#000" stroke-width="0.83"/><line x1="77.82" y1="378.40" x2="77.82" y2="375.70" stroke="#000" stroke-width="0.83"/><line x1="88.19" y1="378.40" x2="88.19" y2="375.70" stroke="#000" stroke-width="0.83"/><line x1="96.66" y1="378.40" x2="96.66" y2="375.70" stroke="#000" stroke-width="0.83"/><line x1="103.83" y1="378.40" x2="103.83" y2="375.70" stroke="#000" stroke-width="0.83"/><line x1="110.03" y1="378.40" x2="110.03" y2="375.70" stroke="#000" stroke-width="0.83"/><line x1="115.50" y1="378.40" x2="115.50" y2="375.70" stroke="#000" stroke-width="0.83"/><line x1="120.40" y1="378.40" x2="120.40" y2="373.80" stroke="#000" stroke-width="1.11"/><line x1="152.61" y1="378.40" x2="152.61" y2="375.70" stroke="#000" stroke-width="0.83"/><line x1="171.45" y1="378.40" x2="171.45" y2="375.70" stroke="#000" stroke-width="0.83"/><line x1="184.82" y1="378.40" x2="184.82" y2="375.70" stroke="#000" stroke-width="0.83"/><line x1="195.19" y1="378.40" x2="195.19" y2="375.70" stroke="#000" stroke-width="0.83"/><line x1="203.66" y1="378.40" x2="203.66" y2="375.70" stroke="#000" stroke-width="0.83"/><line x1="210.83" y1="378.40" x2="210.83" y2="375.70" stroke="#000" stroke-width="0.83"/><line x1="217.03" y1="378.40" x2="217.03" y2="375.70" stroke="#000" stroke-width="0.83"/><line x1="222.50" y1="378.40" x2="222.50" y2="375.70" stroke="#000" stroke-width="0.83"/><line x1="227.40" y1="378.40" x2="227.40" y2="373.80" stroke="#000" stroke-width="1.11"/><line x1="259.61" y1="378.40" x2="259.61" y2="375.70" stroke="#000" stroke-width="0.83"/><line x1="278.45" y1="378.40" x2="278.45" y2="375.70" stroke="#000" stroke-width="0.83"/><line x1="291.82" y1="378.40" x2="291.82" y2="375.70" stroke="#000" stroke-width="0.83"/><line x1="302.19" y1="378.40" x2="302.19" y2="375.70" stroke="#000" stroke-width="0.83"/><line x1="310.66" y1="378.40" x2="310.66" y2="375.70" stroke="#000" stroke-width="0.83"/><line x1="317.83" y1="378.40" x2="317.83" y2="375.70" stroke="#000" stroke-width="0.83"/><line x1="324.03" y1="378.40" x2="324.03" y2="375.70" stroke="#000" stroke-width="0.83"/><line x1="329.50" y1="378.40" x2="329.50" y2="375.70" stroke="#000" stroke-width="0.83"/><line x1="334.40" y1="378.40" x2="334.40" y2="373.80" stroke="#000" stroke-width="1.11"/><line x1="366.61" y1="378.40" x2="366.61" y2="375.70" stroke="#000" stroke-width="0.83"/><line x1="385.45" y1="378.40" x2="385.45" y2="375.70" stroke="#000" stroke-width="0.83"/><line x1="398.82" y1="378.40" x2="398.82" y2="375.70" stroke="#000" stroke-width="0.83"/><line x1="409.19" y1="378.40" x2="409.19" y2="375.70" stroke="#000" stroke-width="0.83"/><line x1="417.66" y1="378.40" x2="417.66" y2="375.70" stroke="#000" stroke-width="0.83"/><line x1="422.43" y1="372.43" x2="425.13" y2="372.43" stroke="#000" stroke-width="0.83"/><line x1="422.43" y1="366.90" x2="425.13" y2="366.90" stroke="#000" stroke-width="0.83"/><line x1="422.43" y1="362.02" x2="425.13" y2="362.02" stroke="#000" stroke-width="0.83"/><line x1="422.43" y1="357.65" x2="427.03" y2="357.65" stroke="#000" stroke-width="1.11"/><line x1="422.43" y1="328.93" x2="425.13" y2="328.93" stroke="#000" stroke-width="0.83"/><line x1="422.43" y1="312.13" x2="425.13" y2="312.13" stroke="#000" stroke-width="0.83"/><line x1="422.43" y1="300.21" x2="425.13" y2="300.21" stroke="#000" stroke-width="0.83"/><line x1="422.43" y1="290.97" x2="425.13" y2="290.97" stroke="#000" stroke-width="0.83"/><line x1="422.43" y1="283.41" x2="425.13" y2="283.41" stroke="#000" stroke-width="0.83"/><line x1="422.43" y1="277.03" x2="425.13" y2="277.03" stroke="#000" stroke-width="0.83"/><line x1="422.43" y1="271.50" x2="425.13" y2="271.50" stroke="#000" stroke-width="0.83"/><line x1="422.43" y1="266.62" x2="425.13" y2="266.62" stroke="#000" stroke-width="0.83"/><line x1="422.43" y1="262.25" x2="427.03" y2="262.25" stroke="#000" stroke-width="1.11"/><line x1="422.43" y1="233.53" x2="425.13" y2="233.53" stroke="#000" stroke-width="0.83"/><line x1="422.43" y1="216.73" x2="425.13" y2="216.73" stroke="#000" stroke-width="0.83"/><line x1="422.43" y1="204.81" x2="425.13" y2="204.81" stroke="#000" stroke-width="0.83"/><line x1="422.43" y1="195.57" x2="425.13" y2="195.57" stroke="#000" stroke-width="0.83"/><line x1="422.43" y1="188.01" x2="425.13" y2="188.01" stroke="#000" stroke-width="0.83"/><line x1="422.43" y1="181.63" x2="425.13" y2="181.63" stroke="#000" stroke-width="0.83"/><line x1="422.43" y1="176.10" x2="425.13" y2="176.10" stroke="#000" stroke-width="0.83"/><line x1="422.43" y1="171.22" x2="425.13" y2="171.22" stroke="#000" stroke-width="0.83"/><line x1="422.43" y1="166.85" x2="427.03" y2="166.85" stroke="#000" stroke-width="1.11"/><line x1="422.43" y1="138.13" x2="425.13" y2="138.13" stroke="#000" stroke-width="0.83"/><line x1="422.43" y1="121.33" x2="425.13" y2="121.33" stroke="#000" stroke-width="0.83"/><line x1="422.43" y1="109.41" x2="425.13" y2="109.41" stroke="#000" stroke-width="0.83"/><line x1="422.43" y1="100.17" x2="425.13" y2="100.17" stroke="#000" stroke-width="0.83"/><line x1="422.43" y1="92.61" x2="425.13" y2="92.61" stroke="#000" stroke-width="0.83"/><line x1="422.43" y1="86.23" x2="425.13" y2="86.23" stroke="#000" stroke-width="0.83"/><line x1="422.43" y1="80.70" x2="425.13" y2="80.70" stroke="#000" stroke-width="0.83"/><line x1="422.43" y1="75.82" x2="425.13" y2="75.82" stroke="#000" stroke-width="0.83"/><line x1="422.43" y1="71.45" x2="427.03" y2="71.45" stroke="#000" stroke-width="1.11"/><line x1="422.43" y1="42.73" x2="425.13" y2="42.73" stroke="#000" stroke-width="0.83"/><line x1="424.25" y1="378.40" x2="424.25" y2="375.70" stroke="#000" stroke-width="0.83"/><line x1="434.62" y1="378.40" x2="434.62" y2="375.70" stroke="#000" stroke-width="0.83"/><line x1="443.09" y1="378.40" x2="443.09" y2="375.70" stroke="#000" stroke-width="0.83"/><line x1="450.26" y1="378.40" x2="450.26" y2="375.70" stroke="#000" stroke-width="0.83"/><line x1="456.46" y1="378.40" x2="456.46" y2="375.70" stroke="#000" stroke-width="0.83"/><line x1="461.93" y1="378.40" x2="461.93" y2="375.70" stroke="#000" stroke-width="0.83"/><line x1="466.83" y1="378.40" x2="466.83" y2="373.80" stroke="#000" stroke-width="1.11"/><line x1="499.04" y1="378.40" x2="499.04" y2="375.70" stroke="#000" stroke-width="0.83"/><line x1="517.88" y1="378.40" x2="517.88" y2="375.70" stroke="#000" stroke-width="0.83"/><line x1="531.25" y1="378.40" x2="531.25" y2="375.70" stroke="#000" stroke-width="0.83"/><line x1="541.62" y1="378.40" x2="541.62" y2="375.70" stroke="#000" stroke-width="0.83"/><line x1="550.09" y1="378.40" x2="550.09" y2="375.70" stroke="#000" stroke-width="0.83"/><line x1="557.26" y1="378.40" x2="557.26" y2="375.70" stroke="#000" stroke-width="0.83"/><line x1="563.46" y1="378.40" x2="563.46" y2="375.70" stroke="#000" stroke-width="0.83"/><line x1="568.93" y1="378.40" x2="568.93" y2="375.70" stroke="#000" stroke-width="0.83"/><line x1="573.83" y1="378.40" x2="573.83" y2="373.80" stroke="#000" stroke-width="1.11"/><line x1="606.04" y1="378.40" x2="606.04" y2="375.70" stroke="#000" stroke-width="0.83"/><line x1="624.88" y1="378.40" x2="624.88" y2="375.70" stroke="#000" stroke-width="0.83"/><line x1="638.25" y1="378.40" x2="638.25" y2="375.70" stroke="#000" stroke-width="0.83"/><line x1="648.62" y1="378.40" x2="648.62" y2="375.70" stroke="#000" stroke-width="0.83"/><line x1="657.09" y1="378.40" x2="657.09" y2="375.70" stroke="#000" stroke-width="0.83"/><line x1="664.26" y1="378.40" x2="664.26" y2="375.70" stroke="#000" stroke-width="0.83"/><line x1="670.46" y1="378.40" x2="670.46" y2="375.70" stroke="#000" stroke-width="0.83"/><line x1="675.93" y1="378.40" x2="675.93" y2="375.70" stroke="#000" stroke-width="0.83"/><line x1="680.83" y1="378.40" x2="680.83" y2="373.80" stroke="#000" stroke-width="1.11"/><line x1="713.04" y1="378.40" x2="713.04" y2="375.70" stroke="#000" stroke-width="0.83"/><line x1="731.88" y1="378.40" x2="731.88" y2="375.70" stroke="#000" stroke-width="0.83"/><line x1="745.25" y1="378.40" x2="745.25" y2="375.70" stroke="#000" stroke-width="0.83"/><line x1="755.62" y1="378.40" x2="755.62" y2="375.70" stroke="#000" stroke-width="0.83"/><line x1="764.09" y1="378.40" x2="764.09" y2="375.70" stroke="#000" stroke-width="0.83"/><line x1="768.86" y1="372.43" x2="771.56" y2="372.43" stroke="#000" stroke-width="0.83"/><line x1="768.86" y1="366.90" x2="771.56" y2="366.90" stroke="#000" stroke-width="0.83"/><line x1="768.86" y1="362.02" x2="771.56" y2="362.02" stroke="#000" stroke-width="0.83"/><line x1="768.86" y1="357.65" x2="773.46" y2="357.65" stroke="#000" stroke-width="1.11"/><line x1="768.86" y1="328.93" x2="771.56" y2="328.93" stroke="#000" stroke-width="0.83"/><line x1="768.86" y1="312.13" x2="771.56" y2="312.13" stroke="#000" stroke-width="0.83"/><line x1="768.86" y1="300.21" x2="771.56" y2="300.21" stroke="#000" stroke-width="0.83"/><line x1="768.86" y1="290.97" x2="771.56" y2="290.97" stroke="#000" stroke-width="0.83"/><line x1="768.86" y1="283.41" x2="771.56" y2="283.41" stroke="#000" stroke-width="0.83"/><line x1="768.86" y1="277.03" x2="771.56" y2="277.03" stroke="#000" stroke-width="0.83"/><line x1="768.86" y1="271.50" x2="771.56" y2="271.50" stroke="#000" stroke-width="0.83"/><line x1="768.86" y1="266.62" x2="771.56" y2="266.62" stroke="#000" stroke-width="0.83"/><line x1="768.86" y1="262.25" x2="773.46" y2="262.25" stroke="#000" stroke-width="1.11"/><line x1="768.86" y1="233.53" x2="771.56" y2="233.53" stroke="#000" stroke-width="0.83"/><line x1="768.86" y1="216.73" x2="771.56" y2="216.73" stroke="#000" stroke-width="0.83"/><line x1="768.86" y1="204.81" x2="771.56" y2="204.81" stroke="#000" stroke-width="0.83"/><line x1="768.86" y1="195.57" x2="771.56" y2="195.57" stroke="#000" stroke-width="0.83"/><line x1="768.86" y1="188.01" x2="771.56" y2="188.01" stroke="#000" stroke-width="0.83"/><line x1="768.86" y1="181.63" x2="771.56" y2="181.63" stroke="#000" stroke-width="0.83"/><line x1="768.86" y1="176.10" x2="771.56" y2="176.10" stroke="#000" stroke-width="0.83"/><line x1="768.86" y1="171.22" x2="771.56" y2="171.22" stroke="#000" stroke-width="0.83"/><line x1="768.86" y1="166.85" x2="773.46" y2="166.85" stroke="#000" stroke-width="1.11"/><line x1="768.86" y1="138.13" x2="771.56" y2="138.13" stroke="#000" stroke-width="0.83"/><line x1="768.86" y1="121.33" x2="771.56" y2="121.33" stroke="#000" stroke-width="0.83"/><line x1="768.86" y1="109.41" x2="771.56" y2="109.41" stroke="#000" stroke-width="0.83"/><line x1="768.86" y1="100.17" x2="771.56" y2="100.17" stroke="#000" stroke-width="0.83"/><line x1="768.86" y1="92.61" x2="771.56" y2="92.61" stroke="#000" stroke-width="0.83"/><line x1="768.86" y1="86.23" x2="771.56" y2="86.23" stroke="#000" stroke-width="0.83"/><line x1="768.86" y1="80.70" x2="771.56" y2="80.70" stroke="#000" stroke-width="0.83"/><line x1="768.86" y1="75.82" x2="771.56" y2="75.82" stroke="#000" stroke-width="0.83"/><line x1="768.86" y1="71.45" x2="773.46" y2="71.45" stroke="#000" stroke-width="1.11"/><line x1="768.86" y1="42.73" x2="771.56" y2="42.73" stroke="#000" stroke-width="0.83"/><line x1="770.68" y1="378.40" x2="770.68" y2="375.70" stroke="#000" stroke-width="0.83"/><line x1="781.05" y1="378.40" x2="781.05" y2="375.70" stroke="#000" stroke-width="0.83"/><line x1="789.52" y1="378.40" x2="789.52" y2="375.70" stroke="#000" stroke-width="0.83"/><line x1="796.69" y1="378.40" x2="796.69" y2="375.70" stroke="#000" stroke-width="0.83"/><line x1="802.89" y1="378.40" x2="802.89" y2="375.70" stroke="#000" stroke-width="0.83"/><line x1="808.36" y1="378.40" x2="808.36" y2="375.70" stroke="#000" stroke-width="0.83"/><line x1="813.26" y1="378.40" x2="813.26" y2="373.80" stroke="#000" stroke-width="1.11"/><line x1="845.47" y1="378.40" x2="845.47" y2="375.70" stroke="#000" stroke-width="0.83"/><line x1="864.31" y1="378.40" x2="864.31" y2="375.70" stroke="#000" stroke-width="0.83"/><line x1="877.68" y1="378.40" x2="877.68" y2="375.70" stroke="#000" stroke-width="0.83"/><line x1="888.05" y1="378.40" x2="888.05" y2="375.70" stroke="#000" stroke-width="0.83"/><line x1="896.52" y1="378.40" x2="896.52" y2="375.70" stroke="#000" stroke-width="0.83"/><line x1="903.69" y1="378.40" x2="903.69" y2="375.70" stroke="#000" stroke-width="0.83"/><line x1="909.89" y1="378.40" x2="909.89" y2="375.70" stroke="#000" stroke-width="0.83"/><line x1="915.36" y1="378.40" x2="915.36" y2="375.70" stroke="#000" stroke-width="0.83"/><line x1="920.26" y1="378.40" x2="920.26" y2="373.80" stroke="#000" stroke-width="1.11"/><line x1="952.47" y1="378.40" x2="952.47" y2="375.70" stroke="#000" stroke-width="0.83"/><line x1="971.31" y1="378.40" x2="971.31" y2="375.70" stroke="#000" stroke-width="0.83"/><line x1="984.68" y1="378.40" x2="984.68" y2="375.70" stroke="#000" stroke-width="0.83"/><line x1="995.05" y1="378.40" x2="995.05" y2="375.70" stroke="#000" stroke-width="0.83"/><line x1="1003.52" y1="378.40" x2="1003.52" y2="375.70" stroke="#000" stroke-width="0.83"/><line x1="1010.69" y1="378.40" x2="1010.69" y2="375.70" stroke="#000" stroke-width="0.83"/><line x1="1016.89" y1="378.40" x2="1016.89" y2="375.70" stroke="#000" stroke-width="0.83"/><line x1="1022.36" y1="378.40" x2="1022.36" y2="375.70" stroke="#000" stroke-width="0.83"/><line x1="1027.26" y1="378.40" x2="1027.26" y2="373.80" stroke="#000" stroke-width="1.11"/><line x1="1059.47" y1="378.40" x2="1059.47" y2="375.70" stroke="#000" stroke-width="0.83"/><line x1="1078.31" y1="378.40" x2="1078.31" y2="375.70" stroke="#000" stroke-width="0.83"/><line x1="1091.68" y1="378.40" x2="1091.68" y2="375.70" stroke="#000" stroke-width="0.83"/><line x1="1102.05" y1="378.40" x2="1102.05" y2="375.70" stroke="#000" stroke-width="0.83"/><line x1="1110.52" y1="378.40" x2="1110.52" y2="375.70" stroke="#000" stroke-width="0.83"/>
<line x1="75.6" y1="34.0" x2="1115.9" y2="34.0" stroke="#000" stroke-width="1.0"/>
<line x1="75.6" y1="378.40" x2="1115.9" y2="378.40" stroke="#000" stroke-width="1.2"/>
<line x1="76.2" y1="33.5" x2="76.2" y2="379.00" stroke="#000" stroke-width="1.25"/>
<line x1="1115.3" y1="33.5" x2="1115.3" y2="379.00" stroke="#000" stroke-width="1.1"/>
<line x1="422.1" y1="33.5" x2="422.1" y2="379.00" stroke="#000" stroke-width="1.7"/>
<line x1="768.85" y1="33.5" x2="768.85" y2="379.00" stroke="#000" stroke-width="1.6"/>
<g font-family='"Liberation Sans", sans-serif' fill="#000">
<rect x="240.90" y="44.20" width="172.00" height="90.40" rx="4" ry="4" fill="#fff" fill-opacity="0.8" stroke="#cccccc" stroke-width="1.11"/><line x1="248.10" y1="59.60" x2="288.40" y2="59.60" stroke="#ff8c00" stroke-width="2.08"/><text x="304.40" y="67.00" font-size="20.4" textLength="100.0" lengthAdjust="spacingAndGlyphs">0.8 <tspan font-size="24" dy="1">&lt;</tspan><tspan dy="-1"> </tspan><tspan font-style="italic">n</tspan> <tspan font-size="24" dy="1">&lt;</tspan><tspan dy="-1"> </tspan>3</text><line x1="248.10" y1="88.20" x2="288.40" y2="88.20" stroke="#ff0000" stroke-width="2.08"/><text x="304.40" y="95.60" font-size="20.4" textLength="82.0" lengthAdjust="spacingAndGlyphs">3 <tspan font-size="24" dy="1">&lt;</tspan><tspan dy="-1"> </tspan><tspan font-style="italic">n</tspan> <tspan font-size="24" dy="1">&lt;</tspan><tspan dy="-1"> </tspan>5</text><line x1="248.10" y1="116.90" x2="288.40" y2="116.90" stroke="#bf00bf" stroke-width="2.08"/><text x="304.40" y="124.30" font-size="20.4" textLength="82.5" lengthAdjust="spacingAndGlyphs">5 <tspan font-size="24" dy="1">&lt;</tspan><tspan dy="-1"> </tspan><tspan font-style="italic">n</tspan> <tspan font-size="24" dy="1">&lt;</tspan><tspan dy="-1"> </tspan>8</text>
<rect x="525.40" y="44.20" width="233.70" height="61.80" rx="4" ry="4" fill="#fff" fill-opacity="0.8" stroke="#cccccc" stroke-width="1.11"/><line x1="531.60" y1="59.60" x2="572.00" y2="59.60" stroke="#1e90ff" stroke-width="2.08"/><text x="587.70" y="67.00" font-size="20.4" textLength="144.1" lengthAdjust="spacingAndGlyphs">2 <tspan font-size="24" dy="1">&lt;</tspan><tspan dy="-1"> </tspan><tspan font-style="italic">u</tspan> <tspan font-size="24" dy="1">&#8722;</tspan><tspan dy="-1"> </tspan><tspan font-style="italic">r</tspan> <tspan font-size="24" dy="1">&lt;</tspan><tspan dy="-1"> </tspan>2.25</text><line x1="531.60" y1="88.30" x2="572.00" y2="88.30" stroke="#ff8c00" stroke-width="2.08"/><text x="587.70" y="95.70" font-size="20.4" textLength="163.1" lengthAdjust="spacingAndGlyphs">2.25 <tspan font-size="24" dy="1">&lt;</tspan><tspan dy="-1"> </tspan><tspan font-style="italic">u</tspan> <tspan font-size="24" dy="1">&#8722;</tspan><tspan dy="-1"> </tspan><tspan font-style="italic">r</tspan> <tspan font-size="24" dy="1">&lt;</tspan><tspan dy="-1"> </tspan>2.6</text>
<rect x="933.20" y="43.90" width="173.00" height="62.20" rx="4" ry="4" fill="#fff" fill-opacity="0.8" stroke="#cccccc" stroke-width="1.11"/><line x1="940.20" y1="59.60" x2="981.00" y2="59.60" stroke="#8b4513" stroke-width="2.08"/><text x="996.80" y="67.00" font-size="20.4" textLength="100.6" lengthAdjust="spacingAndGlyphs">0.8 <tspan font-size="24" dy="1">&lt;</tspan><tspan dy="-1"> </tspan><tspan font-style="italic">n</tspan> <tspan font-size="24" dy="1">&lt;</tspan><tspan dy="-1"> </tspan>4</text><line x1="940.20" y1="88.20" x2="981.00" y2="88.20" stroke="#008000" stroke-width="2.08"/><text x="996.80" y="95.60" font-size="20.4" textLength="81.7" lengthAdjust="spacingAndGlyphs">4 <tspan font-size="24" dy="1">&lt;</tspan><tspan dy="-1"> </tspan><tspan font-style="italic">n</tspan> <tspan font-size="24" dy="1">&lt;</tspan><tspan dy="-1"> </tspan>8</text>
<text x="196.0" y="25.8" font-size="20.4" textLength="105.4" lengthAdjust="spacingAndGlyphs">FIxed color</text>
<text x="561.0" y="25.8" font-size="20.4" textLength="70.3" lengthAdjust="spacingAndGlyphs">Fixed <tspan font-style="italic">n</tspan></text>
<text x="901.0" y="25.8" font-size="20.4" textLength="83.2" lengthAdjust="spacingAndGlyphs">Fixed <tspan font-style="italic">M</tspan><tspan font-style="italic" font-size="14" dy="3.2">h</tspan></text>
<text x="71.3" y="77.45" font-size="15.5" text-anchor="end">10<tspan font-size="10.0" dx="1.1" dy="-6.0">2</tspan></text>
<text x="71.3" y="172.85" font-size="15.5" text-anchor="end">10<tspan font-size="10.0" dx="1.1" dy="-6.0">1</tspan></text>
<text x="71.3" y="268.25" font-size="15.5" text-anchor="end">10<tspan font-size="10.0" dx="1.1" dy="-6.0">0</tspan></text>
<text x="71.3" y="363.65" font-size="15.5" text-anchor="end">10<tspan font-size="10.0" dx="1.1" dy="-6.0">&#8722;1</tspan></text>
<text x="121.10" y="395.3" font-size="15.5" text-anchor="middle">10<tspan font-size="10.0" dx="1.1" dy="-5.4">&#8722;1</tspan></text>
<text x="228.10" y="395.3" font-size="15.5" text-anchor="middle">10<tspan font-size="10.0" dx="1.1" dy="-5.4">0</tspan></text>
<text x="335.10" y="395.3" font-size="15.5" text-anchor="middle">10<tspan font-size="10.0" dx="1.1" dy="-5.4">1</tspan></text>
<text x="467.53" y="395.3" font-size="15.5" text-anchor="middle">10<tspan font-size="10.0" dx="1.1" dy="-5.4">&#8722;1</tspan></text>
<text x="574.53" y="395.3" font-size="15.5" text-anchor="middle">10<tspan font-size="10.0" dx="1.1" dy="-5.4">0</tspan></text>
<text x="681.53" y="395.3" font-size="15.5" text-anchor="middle">10<tspan font-size="10.0" dx="1.1" dy="-5.4">1</tspan></text>
<text x="813.96" y="395.3" font-size="15.5" text-anchor="middle">10<tspan font-size="10.0" dx="1.1" dy="-5.4">&#8722;1</tspan></text>
<text x="920.96" y="395.3" font-size="15.5" text-anchor="middle">10<tspan font-size="10.0" dx="1.1" dy="-5.4">0</tspan></text>
<text x="1027.96" y="395.3" font-size="15.5" text-anchor="middle">10<tspan font-size="10.0" dx="1.1" dy="-5.4">1</tspan></text>
<text x="203.20" y="419.8" font-size="20.4" textLength="92.0" lengthAdjust="spacingAndGlyphs"><tspan font-style="italic">R</tspan> [Mpc/h]</text>
<text x="549.63" y="419.8" font-size="20.4" textLength="92.0" lengthAdjust="spacingAndGlyphs"><tspan font-style="italic">R</tspan> [Mpc/h]</text>
<text x="896.06" y="419.8" font-size="20.4" textLength="92.0" lengthAdjust="spacingAndGlyphs"><tspan font-style="italic">R</tspan> [Mpc/h]</text>
<g transform="translate(27.7,268.5) rotate(-90)"><text x="0" y="0" font-size="21"><tspan x="-0.43">&#916;</tspan><tspan x="12.90">&#931;</tspan><tspan x="24.90">[</tspan><tspan x="32.45">h</tspan><tspan x="44.20">M</tspan><tspan x="78.60">/</tspan><tspan x="85.30">p</tspan><tspan x="97.30">c</tspan></text><circle cx="69.6" cy="-0.9" r="3.35" fill="none" stroke="#000" stroke-width="1.2"/><circle cx="69.6" cy="-0.9" r="1.0" fill="#000"/><text x="108.6" y="-6.9" font-size="14">2</text><text x="119.1" y="0" font-size="21">]</text></g>
</g>
</svg>
</body></html>
